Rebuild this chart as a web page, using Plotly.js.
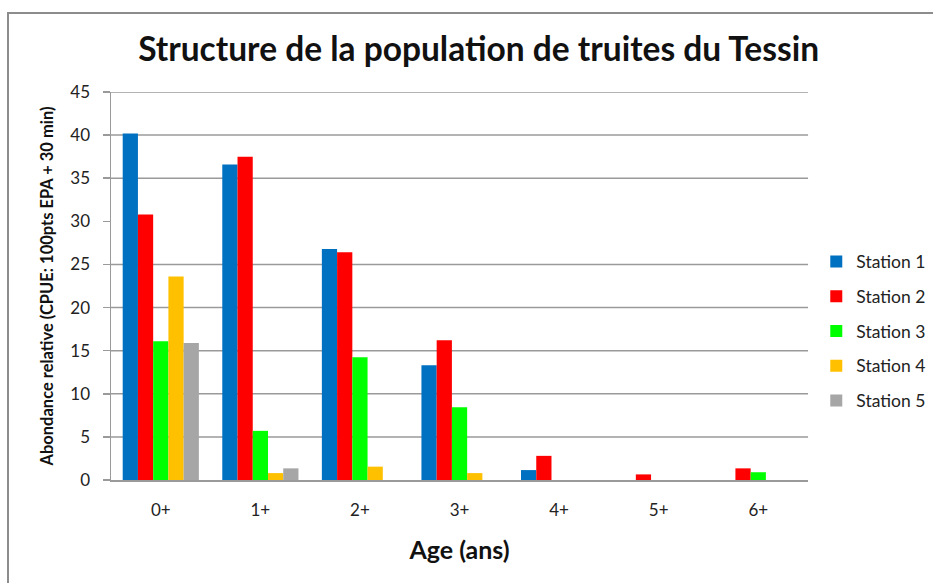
<!DOCTYPE html>
<html>
<head>
<meta charset="utf-8">
<script src="https://cdn.plot.ly/plotly-3.0.1.min.js"></script>
<style>
  html, body { margin:0; padding:0; background:#fff; overflow:hidden; }
  #chart { width:933px; height:583px; position:absolute; left:0; top:0; }
  #frame { position:absolute; left:7px; top:12px; width:1000px; height:1000px;
           border-left:2px solid #8c8c8c; border-top:2px solid #8c8c8c; pointer-events:none; }
</style>
</head>
<body>
<div id="chart"></div>
<div id="frame"></div>
<script>
const ages = ["0+", "1+", "2+", "3+", "4+", "5+", "6+"];
const station1 = [40.2, 36.6, 26.8, 13.3, 1.15, 0, 0];
const station2 = [30.8, 37.5, 26.4, 16.2, 2.8, 0.65, 1.35];
const station3 = [16.1, 5.7, 14.25, 8.45, 0, 0, 0.9];
const station4 = [23.6, 0.8, 1.55, 0.8, 0, 0, 0];
const station5 = [15.9, 1.35, 0, 0, 0, 0, 0];
const names = ["Station 1", "Station 2", "Station 3", "Station 4", "Station 5"];
const colors = ["#0070C0", "#FF0000", "#00FF00", "#FFC000", "#A6A6A6"];
const series = [station1, station2, station3, station4, station5];
const gridValues = [5, 10, 15, 20, 25, 35, 40, 45];
const yTicks = [0, 5, 10, 15, 20, 25, 30, 35, 40, 45];

const FONT = "Lato, 'Open Sans', sans-serif";

const traces = series.map((vals, i) => ({
  type: "bar",
  name: names[i],
  x: ages,
  y: vals,
  legendgroup: "g" + i,
  marker: { color: colors[i], line: { width: 0 } },
  hoverinfo: "x+y+name"
}));

const shapes = gridValues.map(v => ({
  type: "line", xref: "x domain", yref: "y", x0: 0, x1: 1, y0: v, y1: v,
  line: { color: "#9a9a9a", width: 1.5 }, layer: "below"
}));

const layout = {
  width: 933, height: 583,
  margin: { l: 111, r: 0, t: 92, b: 103 },
  paper_bgcolor: "#ffffff",
  plot_bgcolor: "rgba(0,0,0,0)",
  font: { family: FONT, color: "#222", size: 14 },
  title: {
    text: "<b>Structure de la population de truites du Tessin</b>",
    font: { family: FONT, size: 33.5, color: "#111" },
    xref: "container", x: 0.513, xanchor: "center",
    yref: "container", y: 0.915, yanchor: "middle"
  },
  barmode: "group",
  bargap: 0.235,
  bargroupgap: 0,
  xaxis: {
    type: "category",
    domain: [0, 0.848],
    showgrid: false,
    showline: true, linecolor: "#9a9a9a", linewidth: 1.5,
    ticks: "", ticklen: 0,
    ticklabelstandoff: 14,
    tickfont: { family: FONT, size: 17, color: "#222" },
    title: { text: "<b>Age (ans)</b>", font: { family: FONT, size: 25, color: "#111" }, standoff: 22 }
  },
  yaxis: {
    range: [0, 45],
    tickvals: yTicks,
    showgrid: false,
    zeroline: false,
    showline: true, linecolor: "#9a9a9a", linewidth: 1.5,
    ticks: "outside", ticklen: 7, tickcolor: "#9a9a9a", tickwidth: 1.5,
    ticklabelstandoff: 9,
    tickfont: { family: FONT, size: 17, color: "#222" },
    title: { text: "<b>Abondance relative (CPUE: 100pts EPA + 30 min)</b>", font: { family: FONT, size: 16.5, color: "#111" }, standoff: 12 }
  },
  legend: {
    x: 0.858, xanchor: "left", y: 0.384, yanchor: "middle",
    font: { family: FONT, size: 17.5, color: "#222" },
    tracegroupgap: 9,
    bgcolor: "rgba(0,0,0,0)"
  },
  shapes: shapes,
  showlegend: true
};

Plotly.newPlot("chart", traces, layout, { displayModeBar: false, staticPlot: true });
</script>
</body>
</html>
